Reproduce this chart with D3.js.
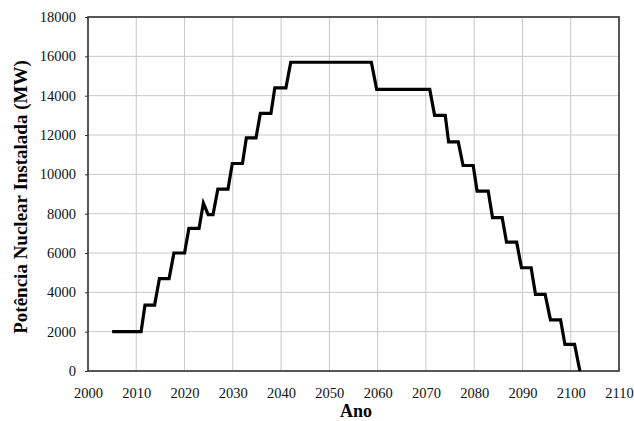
<!DOCTYPE html>
<html>
<head>
<meta charset="utf-8">
<script src="https://cdn.jsdelivr.net/npm/d3@7"></script>
<style>
  body { margin: 0; background: #fff; }
  text { font-family: "Liberation Serif", "Times New Roman", serif; }
</style>
</head>
<body>
<svg id="chart"></svg>
<script>
// values
var years = [2005, 2011, 2011.8, 2013.8, 2014.8, 2016.8, 2017.8, 2020, 2020.9, 2023, 2023.9, 2024.9, 2025.9,
             2026.9, 2029, 2029.9, 2032, 2032.8, 2034.8, 2035.7, 2037.9, 2038.7, 2041, 2042, 2058.7, 2059.8,
             2070.8, 2071.8, 2074, 2074.7, 2076.7, 2077.7, 2079.8, 2080.6, 2082.9, 2083.8, 2085.8, 2086.7,
             2088.8, 2089.8, 2091.8, 2092.7, 2094.7, 2095.8, 2097.9, 2098.8, 2100.8, 2101.9]
var power = [2000, 2000, 3350, 3350, 4700, 4700, 6000, 6000, 7250, 7250, 8530, 7950, 7950,
             9250, 9250, 10550, 10550, 11850, 11850, 13100, 13100, 14400, 14400, 15700, 15700, 14320,
             14320, 13000, 13000, 11650, 11650, 10450, 10450, 9150, 9150, 7800, 7800, 6550,
             6550, 5250, 5250, 3900, 3900, 2600, 2600, 1350, 1350, 0]
var xTicks = [2000, 2010, 2020, 2030, 2040, 2050, 2060, 2070, 2080, 2090, 2100, 2110]
var yTicks = [0, 2000, 4000, 6000, 8000, 10000, 12000, 14000, 16000, 18000]

var width = 634
var height = 421
var margin = { top: 17, right: 15, bottom: 50, left: 88 }
var bodyWidth = width - margin.left - margin.right
var bodyHeight = height - margin.top - margin.bottom

var data = years.map((y, i) => ({ year: y, value: power[i] }))

var xScale = d3.scaleLinear().domain([2000, 2110]).range([0, bodyWidth])
var yScale = d3.scaleLinear().domain([0, 18000]).range([bodyHeight, 0])

var svg = d3.select("#chart").attr("width", width).attr("height", height)
var body = svg.append("g").attr("transform", `translate(${margin.left},${margin.top})`)

// grid
body.append("g").selectAll("line").data(xTicks).enter().append("line")
  .attr("x1", d => xScale(d)).attr("x2", d => xScale(d))
  .attr("y1", 0).attr("y2", bodyHeight)
  .attr("stroke", "#c8c8c8").attr("stroke-width", 1)
body.append("g").selectAll("line").data(yTicks).enter().append("line")
  .attr("x1", 0).attr("x2", bodyWidth)
  .attr("y1", d => yScale(d)).attr("y2", d => yScale(d))
  .attr("stroke", "#c8c8c8").attr("stroke-width", 1)

// axes
var xAxis = d3.axisBottom(xScale).tickValues(xTicks).tickFormat(d3.format("d")).tickSize(0).tickPadding(17)
var yAxis = d3.axisLeft(yScale).tickValues(yTicks).tickFormat(d3.format("d")).tickSize(3).tickPadding(9)

var gx = body.append("g").attr("transform", `translate(0,${bodyHeight})`).call(xAxis)
var gy = body.append("g").call(yAxis)
gx.select(".domain").remove()
gy.select(".domain").remove()
svg.selectAll(".tick text").attr("font-size", 14.5).attr("fill", "#111")
  .style("font-family", "'Liberation Serif', serif")
gy.selectAll(".tick line").attr("stroke", "#333")

// frame
body.append("rect").attr("x", 0).attr("y", 0).attr("width", bodyWidth).attr("height", bodyHeight)
  .attr("fill", "none").attr("stroke", "#333").attr("stroke-width", 1.6)

// series
var line = d3.line().x(d => xScale(d.year)).y(d => yScale(d.value))
body.append("path").datum(data).attr("d", line)
  .attr("fill", "none").attr("stroke", "#000").attr("stroke-width", 3.2)
  .attr("stroke-linejoin", "miter")

// titles
svg.append("text").attr("x", 356).attr("y", 417)
  .attr("text-anchor", "middle").attr("font-size", 18).attr("font-weight", "bold")
  .text("Ano")
svg.append("text").attr("transform", "translate(27,197) rotate(-90)")
  .attr("text-anchor", "middle").attr("font-size", 19).attr("font-weight", "bold")
  .text("Potência Nuclear Instalada (MW)")
</script>
</body>
</html>
